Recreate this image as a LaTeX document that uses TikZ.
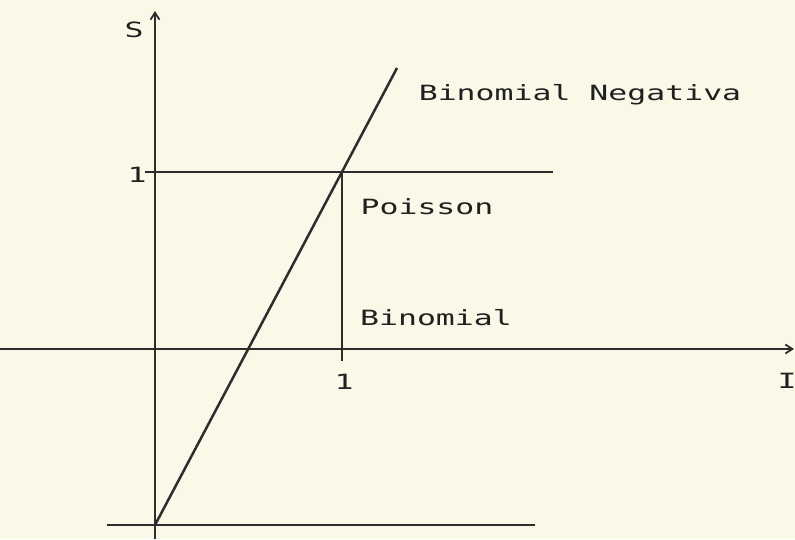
\documentclass[tikz,border=0pt]{standalone}
\usepackage{fontspec}
\setmonofont{DejaVu Sans Mono}
\usetikzlibrary{arrows.meta}
\definecolor{paper}{RGB}{250,249,232}
\definecolor{ink}{RGB}{45,45,45}
\tikzset{
  axis/.style={draw=ink, line width=2.8pt},
  ax/.style={axis, -{Straight Barb[length=7pt,width=9pt,line width=1.8pt]}},
  lbl/.style={inner sep=0pt, anchor=base, text=ink!70!black, font=\ttfamily\fontsize{21}{21}\selectfont, xscale=1.5},
}
\begin{document}
\begin{tikzpicture}[x=1pt,y=-1pt]
\fill[paper] (0,0) rectangle (795,539);
\useasboundingbox (0,0) rectangle (795,539);
% coordinates
\coordinate (yb) at (155,539);
\coordinate (yt) at (155,11);
\coordinate (xl) at (0,349);
\coordinate (xr) at (794,349);
\coordinate (s1l) at (145,172);
\coordinate (s1r) at (553,172);
\coordinate (p) at (342,172);
\coordinate (pb) at (342,361);
\coordinate (bl) at (107,525);
\coordinate (br) at (535,525);
\coordinate (d0) at (155,525);
\coordinate (d1) at (397,68);
% axes and lines
\draw[ax] (yb) -- (yt);
\draw[ax] (xl) -- (xr);
\draw[axis] (s1l) -- (s1r);
\draw[axis] (bl) -- (br);
\draw[axis] (p) -- (pb);
\draw[axis, line width=2.5pt] (d0) -- (d1);
% labels
\node[lbl] (S) at (134,37) {S};
\node[lbl] (I) at (787,388) {I};
\node[lbl] (one) at (137,182) {1};
\node[lbl] (oneb) at (344,389) {1};
\node[lbl] (bn) at (580,100) {Binomial Negativa};
\node[lbl] (po) at (427,214) {Poisson};
\node[lbl] (bi) at (436,325) {Binomial};
\end{tikzpicture}
\end{document}
